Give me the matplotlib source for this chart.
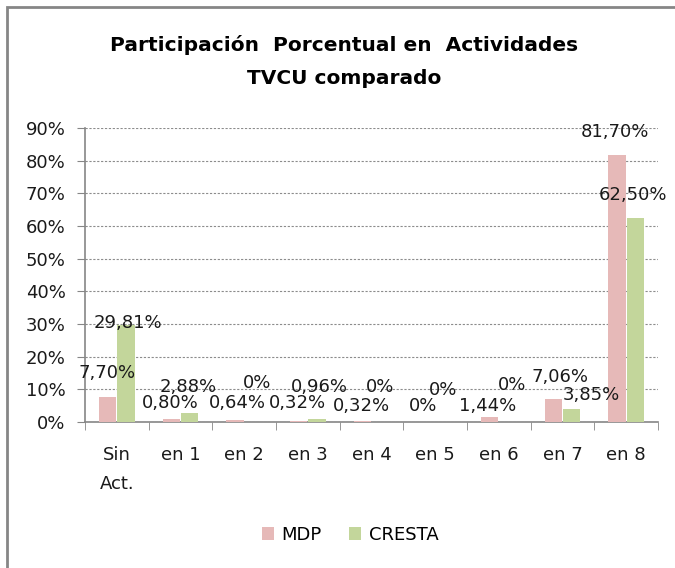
import matplotlib
matplotlib.use('Agg')
import matplotlib.pyplot as plt
from matplotlib.patches import Rectangle
import numpy as np

plt.rcParams['font.family'] = ['DejaVu Sans']

categorias = ['Sin\nAct.', 'en 1', 'en 2', 'en 3', 'en 4', 'en 5', 'en 6', 'en 7', 'en 8']
mdp = [7.70, 0.80, 0.64, 0.32, 0.32, 0.0, 1.44, 7.06, 81.70]
cresta = [29.81, 2.88, 0.0, 0.96, 0.0, 0.0, 0.0, 3.85, 62.50]
mdp_txt = ['7,70%', '0,80%', '0,64%', '0,32%', '0,32%', '0%', '1,44%', '7,06%', '81,70%']
cresta_txt = ['29,81%', '2,88%', '0%', '0,96%', '0%', '0%', '0%', '3,85%', '62,50%']

# where the labels were dragged to in the original (x offset from category, y in %)
mdp_lx = [-0.155, -0.166, -0.114, -0.156, -0.151, -0.194, -0.173, -0.043, -0.18]
mdp_ly = [15.0, 5.8, 5.8, 5.8, 4.9, 4.9, 4.9, 13.8, 88.8]
cre_lx = [0.175, 0.117, 0.2, 0.189, 0.131, 0.12, 0.203, 0.459, 0.103]
cre_ly = [30.3, 10.7, 11.9, 10.7, 10.7, 9.8, 11.3, 8.3, 69.5]

rosa = '#E6B9B8'
verde = '#C3D69B'

fig = plt.figure(figsize=(6.75, 5.68), dpi=100)
ax = fig.add_axes([85/675, 1 - 422/568, (658 - 85)/675, (422 - 128)/568])

x = np.arange(len(categorias))
w = 0.27
ax.bar(x - 0.145, mdp, w, color=rosa, label='MDP', zorder=3)
ax.bar(x + 0.145, cresta, w, color=verde, label='CRESTA', zorder=3)

for i in range(len(categorias)):
    ax.text(i + mdp_lx[i], mdp_ly[i], mdp_txt[i], ha='center', va='center', fontsize=13, color='#1a1a1a', zorder=4)
    ax.text(i + cre_lx[i], cre_ly[i], cresta_txt[i], ha='center', va='center', fontsize=13, color='#1a1a1a', zorder=4)

ax.set_xlim(-0.5, len(categorias) - 0.5)
ax.set_ylim(0, 90)
ax.set_yticks(np.arange(0, 91, 10))
ax.set_yticklabels([f'{v}%' for v in range(0, 91, 10)], fontsize=13, color='#1a1a1a')
ax.set_xticks(x)
ax.set_xticklabels(categorias, fontsize=13, va='top', linespacing=1.8, color='#1a1a1a')
ax.set_xticks(np.arange(-0.5, len(categorias), 1), minor=True)
ax.tick_params(axis='x', which='major', length=0, pad=17)
ax.tick_params(axis='x', which='minor', length=6, color='#868686')
ax.tick_params(axis='y', length=6, color='#868686', pad=8)

ax.grid(axis='y', linestyle=(0, (2, 1.5)), color='#8c8c8c', linewidth=0.8, zorder=0)
for s in ['top', 'right']:
    ax.spines[s].set_visible(False)
for s in ['left', 'bottom']:
    ax.spines[s].set_color('#868686')
    ax.spines[s].set_linewidth(1.2)

fig.text(0.51, 1 - 45/568, 'Participación  Porcentual en  Actividades', ha='center', va='center',
         fontsize=14.5, fontweight='bold')
fig.text(0.51, 1 - 78/568, 'TVCU comparado', ha='center', va='center', fontsize=14.5, fontweight='bold')

fig.legend(loc='center', bbox_to_anchor=(350/675, 1 - 535/568), ncol=2, frameon=False, fontsize=13,
           handlelength=0.7, handleheight=0.7, columnspacing=1.5, handletextpad=0.4)

fig.patches.append(Rectangle((7/675, -0.1), 1.2, 1 - 7/568 + 0.1, transform=fig.transFigure,
                             fill=False, edgecolor='#868686', linewidth=2))

fig.savefig('out.png', dpi=100)
